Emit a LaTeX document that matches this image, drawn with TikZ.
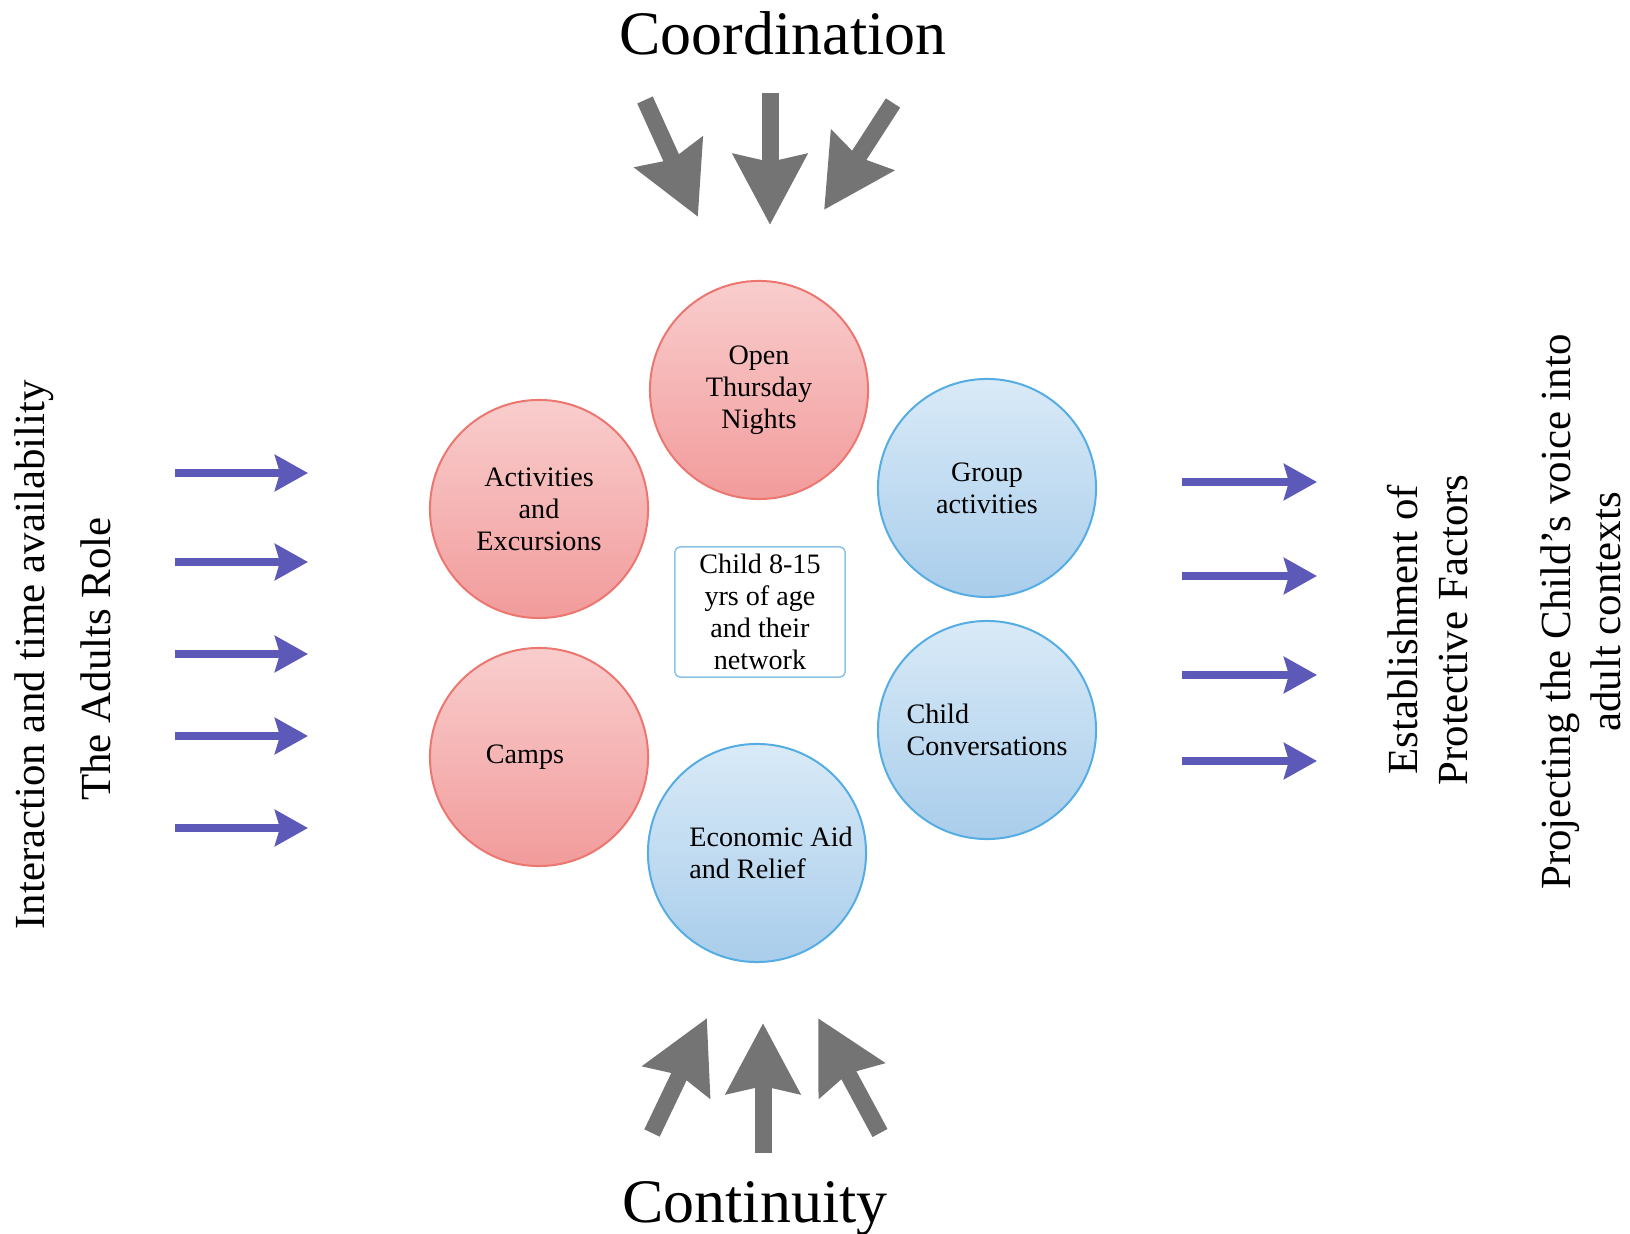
\documentclass[tikz,border=0pt]{standalone}
\usepackage{fontspec}
\setmainfont{Liberation Serif}
\usetikzlibrary{arrows.meta}
\definecolor{redtop}{HTML}{F9CDCD}
\definecolor{redbot}{HTML}{F29B9B}
\definecolor{redline}{HTML}{EC7670}
\definecolor{bluetop}{HTML}{D9EAF7}
\definecolor{bluebot}{HTML}{A9CDEB}
\definecolor{blueline}{HTML}{55ADE3}
\definecolor{boxline}{HTML}{8FC3E8}
\definecolor{arrowgray}{HTML}{747474}
\definecolor{arrowblue}{HTML}{5C59B8}
\newcommand\titlefont{\fontsize{17.6}{21}\selectfont}
\newcommand\sidefont{\fontsize{12.2}{14.2}\selectfont}
\newcommand\bubblefont{\fontsize{8}{9.1}\selectfont}
\begin{document}
\begin{tikzpicture}[x=0.01cm,y=0.01cm, %1 unidade = 1 pixel
	redball/.style={circle,draw=redline,line width=0.02cm,top color=redtop,bottom color=redbot,
		minimum size=2.18cm,inner sep=0pt,align=center,font=\bubblefont},
	blueball/.style={redball,draw=blueline,top color=bluetop,bottom color=bluebot},
	grayarrow/.style={-{Stealth[length=0.7cm,width=0.72cm,inset=0.07cm]},line width=0.17cm,draw=arrowgray},
	bluearrow/.style={-{Stealth[length=0.33cm,width=0.36cm,inset=0.05cm]},line width=0.08cm,draw=arrowblue}]
	\useasboundingbox (0,0) rectangle (1630,-1234);
		%Titulos
	\node[font=\titlefont,anchor=base] (coord) at (783,-55) {Coordination};
	\node[font=\titlefont,anchor=base] (cont) at (755,-1222) {Continuity};
		%Textos laterais
	\node[font=\sidefont,rotate=90] (inter) at (34,-655) {Interaction and time availability};
	\node[font=\sidefont,rotate=90] (adults) at (96,-659) {The Adults Role};
	\node[font=\sidefont,rotate=90,align=center] (protect) at (1428,-630) {Establishment of\\Protective Factors};
	\node[font=\sidefont,rotate=90,align=center] (voice) at (1581,-612) {Projecting the Child's voice into\\adult contexts};
		%Circulos
	\node[redball] (open) at (759,-390) {Open\\Thursday\\Nights};
	\node[redball] (excur) at (539,-509) {Activities\\and\\Excursions};
	\node[redball] (camps) at (539,-757) {Camps\hspace{0.28cm}};
	\node[blueball] (group) at (987,-488) {Group\\activities};
	\node[blueball,align=left] (conv) at (987,-730) {Child\\Conversations};
	\node[blueball,align=left] (econ) at (757,-853) {\hspace{0.28cm}Economic Aid\\\hspace{0.28cm}and Relief};
		%Caixa central
	\node[draw=boxline,line width=0.015cm,rounded corners=0.05cm,fill=white,minimum width=1.7cm,
		minimum height=1.3cm,inner sep=0pt,align=center,font=\bubblefont] (child) at (760,-612)
		{Child 8-15\\yrs of age\\and their\\network};
		%Setas cinzas
	\draw[grayarrow] (645,-100) -- (698,-217);
	\draw[grayarrow] (770,-93) -- (770,-225);
	\draw[grayarrow] (893,-103) -- (824,-210);
	\draw[grayarrow] (652,-1133) -- (707,-1018);
	\draw[grayarrow] (763,-1153) -- (763,-1023);
	\draw[grayarrow] (880,-1133) -- (818,-1018);
		%Setas azuis
	\foreach \y in {473,562,654,736,828}
		\draw[bluearrow] (175,-\y) -- (308,-\y);
	\foreach \y in {482,576,675,761}
		\draw[bluearrow] (1182,-\y) -- (1317,-\y);
\end{tikzpicture}
\end{document}
